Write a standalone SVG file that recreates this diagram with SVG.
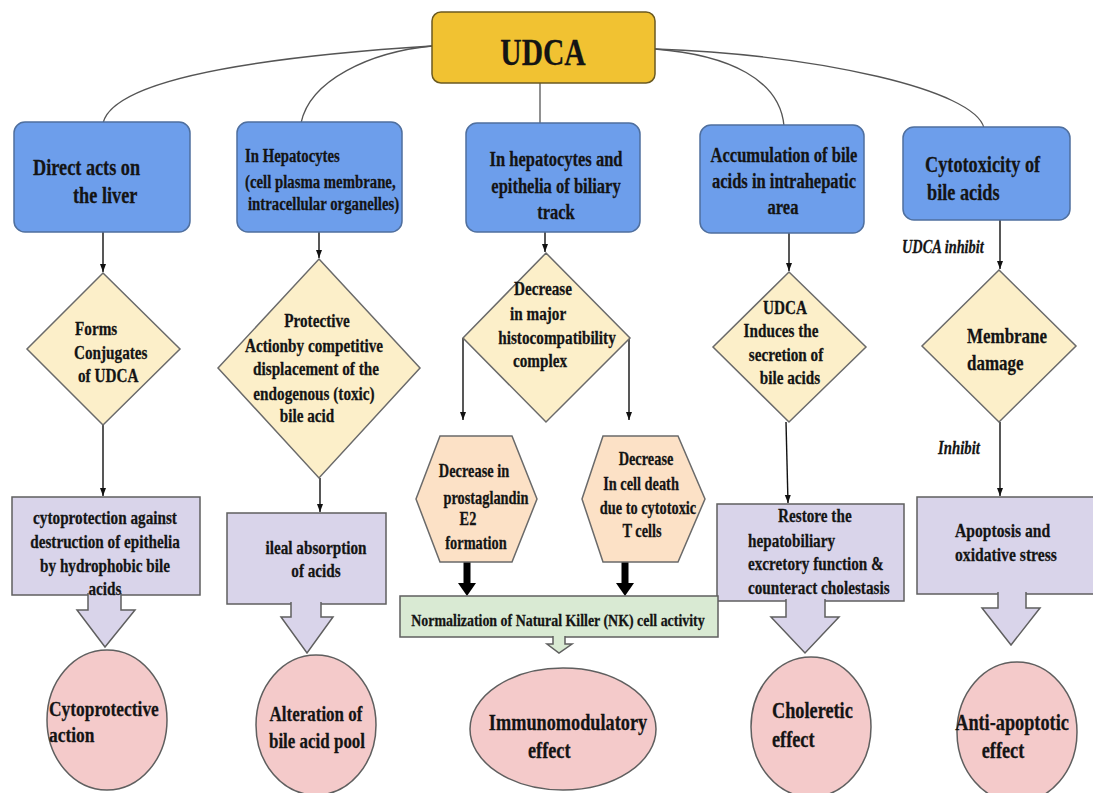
<svg xmlns="http://www.w3.org/2000/svg" width="1093" height="793" viewBox="0 0 1093 793">
<defs>
<marker id="ah" markerUnits="userSpaceOnUse" markerWidth="10" markerHeight="8" refX="8" refY="3" orient="auto"><path d="M0,0 L8,3 L0,6 z" fill="#111"/></marker>
<style>
.t{font-family:"Liberation Serif","Times New Roman",serif;font-weight:bold;fill:#141414;stroke:#141414;stroke-width:0.25}
.m{text-anchor:middle}
.it{font-style:italic}
.blue{fill:#6D9EEB;stroke:#4f6f9e;stroke-width:1.5}
.gold{fill:#F1C232;stroke:#6b5a20;stroke-width:1.5}
.dia{fill:#FCEFC9;stroke:#6a6a6a;stroke-width:1.5}
.hex{fill:#FCE1C6;stroke:#6a6a6a;stroke-width:1.5}
.pur{fill:#D9D4EA;stroke:#5f5f5f;stroke-width:1.5}
.pink{fill:#F4CACA;stroke:#5f5f5f;stroke-width:1.5}
.grn{fill:#D9EAD3;stroke:#5f5f5f;stroke-width:1.5}
.cv{fill:none;stroke:#555;stroke-width:1.3}
.ar{fill:none;stroke:#111;stroke-width:1.4;marker-end:url(#ah)}
.ba{fill:#D9D4EA;stroke:#5f5f5f;stroke-width:1.5}
.bag{fill:#D9EAD3;stroke:#5f5f5f;stroke-width:1.5}
</style>
</defs>
<rect width="1093" height="793" fill="#fff"/>

<g id="connectors">
<path class="cv" d="M432,46 C290,55 115,75 103,123"/>
<path class="cv" d="M432,46 C370,52 310,80 301,123"/>
<path class="cv" d="M655,49 C730,55 780,80 784,126"/>
<path class="cv" d="M655,49 C820,55 975,90 984,128"/>
<path class="cv" d="M540,83 V124"/>
<path class="ar" d="M103,232 V272"/>
<path class="ar" d="M103,425 V496"/>
<path class="ar" d="M319,232 V258"/>
<path class="ar" d="M320,478 V512"/>
<path class="ar" d="M545,232 V252"/>
<path class="ar" d="M463,338 V420"/>
<path class="ar" d="M629,338 V420"/>
<path class="ar" d="M789,233 V271"/>
<path class="ar" d="M786,422 L788,503"/>
<path class="ar" d="M1000,220 V269"/>
<path class="ar" d="M1000,422 V496"/>
<path d="M467,562 V584" stroke="#000" stroke-width="7" fill="none"/>
<path d="M458,583 H476 L467,596 z" fill="#000"/>
<path d="M625,562 V584" stroke="#000" stroke-width="7" fill="none"/>
<path d="M616,583 H634 L625,596 z" fill="#000"/>
<text class="t it" font-size="16.5" transform="matrix(.87 0 0 1.1 902 253)">UDCA inhibit</text>
<text class="t it" font-size="17" transform="matrix(.87 0 0 1.1 938 454)">Inhibit</text>
</g>

<g id="udca">
<rect class="gold" x="432" y="12" width="223" height="71" rx="9"/>
<text class="t m" font-size="34" transform="matrix(.87 0 0 1.1 543 65)">UDCA</text>
</g>

<g id="b1">
<rect class="blue" x="14" y="122" width="176" height="110" rx="11"/>
<text class="t" font-size="21" transform="matrix(.87 0 0 1.1 33 175)">Direct acts on</text>
<text class="t" font-size="21" transform="matrix(.87 0 0 1.1 73 203)">the liver</text>
</g>
<g id="b2">
<rect class="blue" x="237" y="122" width="165" height="110" rx="11"/>
<text class="t" font-size="17" transform="matrix(.87 0 0 1.1 245 162)">In Hepatocytes</text>
<text class="t" font-size="17" transform="matrix(.87 0 0 1.1 245 188)">(cell plasma membrane,</text>
<text class="t" font-size="17" transform="matrix(.87 0 0 1.1 248 210)">intracellular organelles)</text>
</g>
<g id="b3">
<rect class="blue" x="466" y="123" width="174" height="109" rx="11"/>
<text class="t m" font-size="19" transform="matrix(.87 0 0 1.1 556 166)">In hepatocytes and</text>
<text class="t m" font-size="19" transform="matrix(.87 0 0 1.1 556 193)">epithelia of biliary</text>
<text class="t m" font-size="19" transform="matrix(.87 0 0 1.1 556 219)">track</text>
</g>
<g id="b4">
<rect class="blue" x="700" y="125" width="164" height="108" rx="11"/>
<text class="t m" font-size="19" transform="matrix(.87 0 0 1.1 784 162)">Accumulation of bile</text>
<text class="t m" font-size="19" transform="matrix(.87 0 0 1.1 784 188)">acids in intrahepatic</text>
<text class="t m" font-size="19" transform="matrix(.87 0 0 1.1 783 214)">area</text>
</g>
<g id="b5">
<rect class="blue" x="903" y="127" width="167" height="93" rx="11"/>
<text class="t" font-size="21" transform="matrix(.87 0 0 1.1 925 172)">Cytotoxicity of</text>
<text class="t" font-size="21" transform="matrix(.87 0 0 1.1 927 200)">bile acids</text>
</g>

<g id="d1">
<polygon class="dia" points="103,273 180,349 103,425 27,349"/>
<text class="t" font-size="17.5" transform="matrix(.87 0 0 1.1 75 335)">Forms</text>
<text class="t" font-size="17.5" transform="matrix(.87 0 0 1.1 74 359)">Conjugates</text>
<text class="t" font-size="17.5" transform="matrix(.87 0 0 1.1 78 382)">of UDCA</text>
</g>
<g id="d2">
<polygon class="dia" points="319,259 420,368 319,478 218,368"/>
<text class="t m" font-size="17.5" transform="matrix(.87 0 0 1.1 317 327)">Protective</text>
<text class="t m" font-size="17.5" transform="matrix(.87 0 0 1.1 314 352)">Actionby competitive</text>
<text class="t m" font-size="17.5" transform="matrix(.87 0 0 1.1 316 375)">displacement of the</text>
<text class="t m" font-size="17.5" transform="matrix(.87 0 0 1.1 314 400)">endogenous (toxic)</text>
<text class="t m" font-size="17.5" transform="matrix(.87 0 0 1.1 307 422)">bile acid</text>
</g>
<g id="d3">
<polygon class="dia" points="546,253 630,338 546,422 463,338"/>
<text class="t m" font-size="17.5" transform="matrix(.87 0 0 1.1 543 295)">Decrease</text>
<text class="t" font-size="17.5" transform="matrix(.87 0 0 1.1 510 320)">in  major</text>
<text class="t m" font-size="17.5" transform="matrix(.87 0 0 1.1 557 344)">histocompatibility</text>
<text class="t m" font-size="17.5" transform="matrix(.87 0 0 1.1 540 367)">complex</text>
</g>
<g id="d4">
<polygon class="dia" points="789,272 866,347 789,422 713,347"/>
<text class="t m" font-size="17.5" transform="matrix(.87 0 0 1.1 785 314)">UDCA</text>
<text class="t m" font-size="17.5" transform="matrix(.87 0 0 1.1 781 337)">Induces the</text>
<text class="t m" font-size="17.5" transform="matrix(.87 0 0 1.1 786 361)">secretion of</text>
<text class="t m" font-size="17.5" transform="matrix(.87 0 0 1.1 790 384)">bile acids</text>
</g>
<g id="d5">
<polygon class="dia" points="999,270 1076,346 999,422 922,346"/>
<text class="t" font-size="19.5" transform="matrix(.87 0 0 1.1 967 343)">Membrane</text>
<text class="t" font-size="19.5" transform="matrix(.87 0 0 1.1 967 370)">damage</text>
</g>

<g id="h1">
<polygon class="hex" points="416,499 440,436 512,436 537,499 512,562 440,562"/>
<text class="t m" font-size="16.5" transform="matrix(.87 0 0 1.1 474 477)">Decrease in</text>
<text class="t m" font-size="16.5" transform="matrix(.87 0 0 1.1 486 504)">prostaglandin</text>
<text class="t m" font-size="16.5" transform="matrix(.87 0 0 1.1 468 525)">E2</text>
<text class="t m" font-size="16.5" transform="matrix(.87 0 0 1.1 476 549)">formation</text>
</g>
<g id="h2">
<polygon class="hex" points="582,499 603,436 678,436 705,499 678,562 603,562"/>
<text class="t m" font-size="16.5" transform="matrix(.87 0 0 1.1 646 465)">Decrease</text>
<text class="t m" font-size="16.5" transform="matrix(.87 0 0 1.1 641 490)">In cell death</text>
<text class="t m" font-size="16.5" transform="matrix(.87 0 0 1.1 648 514)">due to cytotoxic</text>
<text class="t m" font-size="16.5" transform="matrix(.87 0 0 1.1 642 537)">T cells</text>
</g>

<g id="p1">
<rect class="pur" x="12" y="497" width="188" height="98"/>
<path class="ba" d="M88,593 V610 H77 L105,647 L135,610 H121 V593"/>
<text class="t m" font-size="17.5" transform="matrix(.87 0 0 1.1 105 524)">cytoprotection against</text>
<text class="t m" font-size="17.5" transform="matrix(.87 0 0 1.1 105 548)">destruction of epithelia</text>
<text class="t m" font-size="17.5" transform="matrix(.87 0 0 1.1 105 572)">by hydrophobic bile</text>
<text class="t m" font-size="17.5" transform="matrix(.87 0 0 1.1 105 595)">acids</text>
</g>
<g id="p2">
<rect class="pur" x="227" y="513" width="159" height="91"/>
<path class="ba" d="M291,602 V617 H281 L307,653 L333,617 H321 V602"/>
<text class="t m" font-size="17.5" transform="matrix(.87 0 0 1.1 316 554)">ileal absorption</text>
<text class="t m" font-size="17.5" transform="matrix(.87 0 0 1.1 316 577)">of acids</text>
</g>
<g id="p4">
<rect class="pur" x="717" y="504" width="187" height="97"/>
<path class="ba" d="M786,599 V617 H771 L805,653 L839,617 H825 V599"/>
<text class="t" font-size="17.5" transform="matrix(.87 0 0 1.1 778 522)">Restore the</text>
<text class="t" font-size="17.5" transform="matrix(.87 0 0 1.1 748 547)">hepatobiliary</text>
<text class="t" font-size="17.5" transform="matrix(.87 0 0 1.1 748 570)">excretory function &amp;</text>
<text class="t" font-size="17.5" transform="matrix(.87 0 0 1.1 748 594)">counteract cholestasis</text>
</g>
<g id="p5">
<rect class="pur" x="917" y="497" width="180" height="97"/>
<path class="ba" d="M998,592 V608 H982 L1011,645 L1040,608 H1026 V592"/>
<text class="t" font-size="18" transform="matrix(.87 0 0 1.1 955 537)">Apoptosis and</text>
<text class="t" font-size="18" transform="matrix(.87 0 0 1.1 955 561)">oxidative stress</text>
</g>

<g id="nk">
<rect class="grn" x="400" y="596" width="318" height="41"/>
<path class="bag" d="M553,636 V644 H547 L559,653 L572,644 H565 V636"/>
<text class="t m" font-size="16" transform="matrix(.87 0 0 1.1 558 626)">Normalization of Natural Killer (NK) cell activity</text>
</g>

<g id="c1">
<ellipse class="pink" cx="107" cy="720" rx="60" ry="70"/>
<text class="t" font-size="20" transform="matrix(.87 0 0 1.1 49 716)">Cytoprotective</text>
<text class="t" font-size="20" transform="matrix(.87 0 0 1.1 49 742)">action</text>
</g>
<g id="c2">
<ellipse class="pink" cx="316" cy="725" rx="60" ry="70"/>
<text class="t m" font-size="19.5" transform="matrix(.87 0 0 1.1 316 721)">Alteration of</text>
<text class="t m" font-size="19.5" transform="matrix(.87 0 0 1.1 317 748)">bile acid pool</text>
</g>
<g id="c3">
<ellipse class="pink" cx="563" cy="729" rx="93" ry="61"/>
<text class="t m" font-size="21" transform="matrix(.87 0 0 1.1 568 730)">Immunomodulatory</text>
<text class="t" font-size="21" transform="matrix(.87 0 0 1.1 528 758)">effect</text>
</g>
<g id="c4">
<ellipse class="pink" cx="811" cy="727" rx="60" ry="70"/>
<text class="t" font-size="21" transform="matrix(.87 0 0 1.1 772 718)">Choleretic</text>
<text class="t" font-size="21" transform="matrix(.87 0 0 1.1 772 747)">effect</text>
</g>
<g id="c5">
<ellipse class="pink" cx="1017" cy="732" rx="60" ry="70"/>
<text class="t m" font-size="21" transform="matrix(.87 0 0 1.1 1012 730)">Anti-apoptotic</text>
<text class="t m" font-size="21" transform="matrix(.87 0 0 1.1 1003 758)">effect</text>
</g>
</svg>
